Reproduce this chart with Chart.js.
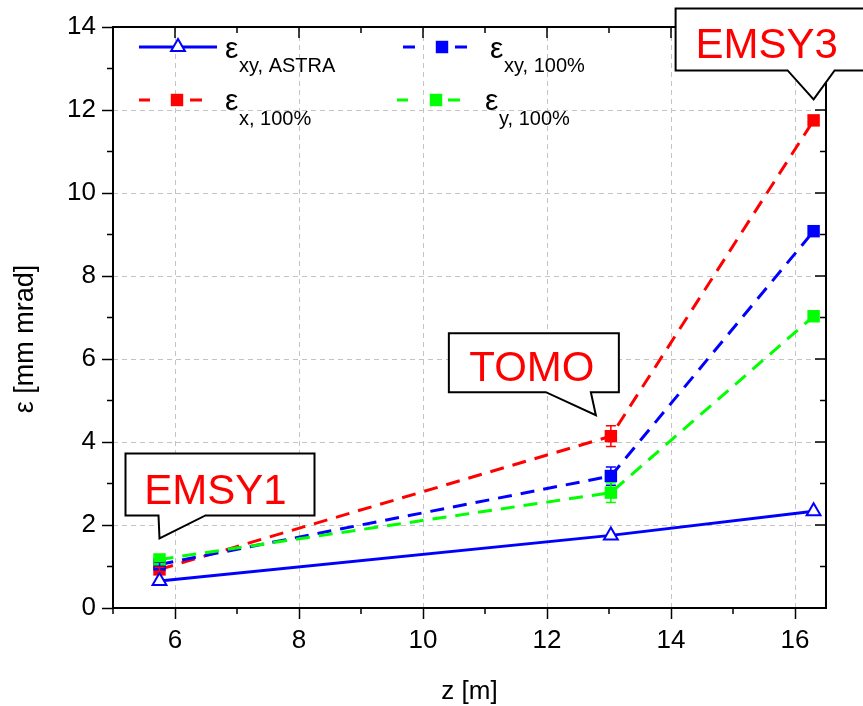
<!DOCTYPE html>
<html>
<head>
<meta charset="utf-8">
<script src="https://cdn.jsdelivr.net/npm/chart.js@4.4.0/dist/chart.umd.min.js"></script>
<style>
  html, body { margin: 0; padding: 0; background: #fff; }
  #wrap { width: 863px; height: 706px; }
</style>
</head>
<body>
<div id="wrap"><canvas id="c"></canvas></div>
<script>
// measurement positions along the beamline
const zPos = [5.75, 13.03, 16.3];
const stations = ['EMSY1', 'TOMO', 'EMSY3'];

// emittance values [mm mrad]
const epsAstra = [0.65, 1.75, 2.33];
const epsXY = [1.05, 3.18, 9.08];
const epsX = [0.93, 4.14, 11.75];
const epsY = [1.17, 2.78, 7.03];

// error bars
const errXY = [0.05, 0.22, 0.08];
const errX = [0.05, 0.25, 0.08];
const errY = [0.05, 0.24, 0.08];

const xTicks = [6, 8, 10, 12, 14, 16];
const yTicks = [0, 2, 4, 6, 8, 10, 12, 14];
const xMinor = [5, 7, 9, 11, 13, 15];
const yMinor = [1, 3, 5, 7, 9, 11, 13];

const seriesSub = ['xy, ASTRA', 'xy, 100%', 'x, 100%', 'y, 100%'];

const colors = { blue: '#0000ff', red: '#ff0000', green: '#00ff00', grid: '#c4c4c4' };
const FONT = '"Liberation Sans", Arial, sans-serif';

const pts = (ys) => zPos.map((z, i) => ({ x: z, y: ys[i] }));

// error bars drawn over the points
const errorBars = {
  id: 'errorBars',
  afterDatasetsDraw(chart) {
    const { ctx, scales: { x, y } } = chart;
    const sets = [[epsXY, errXY, colors.blue], [epsX, errX, colors.red], [epsY, errY, colors.green]];
    ctx.save();
    ctx.lineWidth = 1.5;
    sets.forEach(([vals, errs, col]) => {
      ctx.strokeStyle = col;
      vals.forEach((v, i) => {
        const px = x.getPixelForValue(zPos[i]);
        const top = y.getPixelForValue(v + errs[i]);
        const bot = y.getPixelForValue(v - errs[i]);
        ctx.beginPath();
        ctx.moveTo(px, top); ctx.lineTo(px, bot);
        ctx.moveTo(px - 5, top); ctx.lineTo(px + 5, top);
        ctx.moveTo(px - 5, bot); ctx.lineTo(px + 5, bot);
        ctx.stroke();
      });
    });
    ctx.restore();
  }
};

// frame, minor ticks, mirrored ticks, titles, legend, callouts
const decor = {
  id: 'decor',
  afterDraw(chart) {
    const { ctx, chartArea: a, scales: { x, y } } = chart;
    ctx.save();
    ctx.strokeStyle = '#000';
    ctx.lineWidth = 1.5;
    ctx.beginPath();
    xMinor.forEach(v => {
      const px = x.getPixelForValue(v);
      ctx.moveTo(px, a.bottom); ctx.lineTo(px, a.bottom + 6);
      ctx.moveTo(px, a.top); ctx.lineTo(px, a.top + 6);
    });
    xTicks.forEach(v => {
      const px = x.getPixelForValue(v);
      ctx.moveTo(px, a.top); ctx.lineTo(px, a.top + 11);
    });
    yMinor.forEach(v => {
      const py = y.getPixelForValue(v);
      ctx.moveTo(a.left - 6, py); ctx.lineTo(a.left, py);
      ctx.moveTo(a.right - 6, py); ctx.lineTo(a.right, py);
    });
    yTicks.forEach(v => {
      const py = y.getPixelForValue(v);
      ctx.moveTo(a.right - 11, py); ctx.lineTo(a.right, py);
    });
    ctx.stroke();
    ctx.lineWidth = 2;
    ctx.strokeRect(a.left, a.top, a.right - a.left, a.bottom - a.top);

    // axis titles
    ctx.fillStyle = '#000';
    ctx.font = '26px ' + FONT;
    ctx.textAlign = 'center';
    ctx.textBaseline = 'middle';
    ctx.fillText('z [m]', (a.left + a.right) / 2, 692);
    ctx.save();
    ctx.translate(26, 339);
    ctx.rotate(-Math.PI / 2);
    ctx.font = '27px ' + FONT;
    ctx.fillText('ε [mm mrad]', 0, 0);
    ctx.restore();

    // legend
    const leg = [
      { ds: 0, segs: [[139, 217]], mx: 178, ly: 47, tx: 225, by: 58, sy: 72 },
      { ds: 1, segs: [[403, 415], [455, 467]], mx: 442, ly: 47, tx: 490, by: 58, sy: 72 },
      { ds: 2, segs: [[139, 150], [190, 202]], mx: 177, ly: 100, tx: 225, by: 110, sy: 125 },
      { ds: 3, segs: [[397, 408], [448, 460]], mx: 436, ly: 100, tx: 485, by: 110, sy: 125 }
    ];
    leg.forEach(it => {
      const ds = chart.data.datasets[it.ds];
      ctx.strokeStyle = ds.borderColor;
      ctx.lineWidth = 3;
      ctx.beginPath();
      it.segs.forEach(s => { ctx.moveTo(s[0], it.ly); ctx.lineTo(s[1], it.ly); });
      ctx.stroke();
      ctx.fillStyle = ds.pointBackgroundColor;
      ctx.strokeStyle = ds.pointBorderColor;
      ctx.lineWidth = ds.pointBorderWidth;
      ctx.beginPath();
      Chart.helpers.drawPoint(ctx, {
        pointStyle: ds.pointStyle, radius: ds.pointRadius, borderWidth: ds.pointBorderWidth, rotation: 0
      }, it.mx, it.ly);
      ctx.fillStyle = '#000';
      ctx.textAlign = 'left';
      ctx.textBaseline = 'alphabetic';
      ctx.font = '30px ' + FONT;
      ctx.fillText('ε', it.tx, it.by);
      ctx.font = '20px ' + FONT;
      ctx.fillText(seriesSub[it.ds], it.tx + 14, it.sy);
    });

    // callouts pointing at the stations
    const boxes = [
      { dx: 0, l: -34, r: 155, t: -85, b: -23, bl: -1, br: 46, tx: 56, ty: -48 },
      { dx: -15, l: -147, r: 23, t: -82, b: -23, bl: -50, br: -5, tx: -64, ty: -48 },
      { dx: 0, l: -138, r: 120, t: -91, b: -29, bl: -26, br: 21, tx: -47, ty: -55 }
    ];
    boxes.forEach((c, i) => {
      const topVal = Math.max(epsX[i], epsY[i], epsXY[i]);
      const px = x.getPixelForValue(zPos[i]) + c.dx;
      const py = y.getPixelForValue(topVal) - 21;
      ctx.beginPath();
      ctx.moveTo(px + c.l, py + c.t);
      ctx.lineTo(px + c.r, py + c.t);
      ctx.lineTo(px + c.r, py + c.b);
      ctx.lineTo(px + c.br, py + c.b);
      ctx.lineTo(px, py);
      ctx.lineTo(px + c.bl, py + c.b);
      ctx.lineTo(px + c.l, py + c.b);
      ctx.closePath();
      ctx.fillStyle = '#fff';
      ctx.fill();
      ctx.strokeStyle = '#000';
      ctx.lineWidth = 2;
      ctx.stroke();
      ctx.fillStyle = colors.red;
      ctx.font = '42px ' + FONT;
      ctx.textAlign = 'center';
      ctx.textBaseline = 'middle';
      ctx.fillText(stations[i], px + c.tx, py + c.ty + 2);
    });
    ctx.restore();
  }
};

new Chart(document.getElementById('c'), {
  type: 'line',
  data: {
    datasets: [
      {
        label: 'xy, ASTRA', data: pts(epsAstra), borderColor: colors.blue, borderWidth: 3,
        pointStyle: 'triangle', pointRadius: 8, pointBackgroundColor: '#fff',
        pointBorderColor: colors.blue, pointBorderWidth: 2, order: -1
      },
      {
        label: 'xy, 100%', data: pts(epsXY), borderColor: colors.blue, borderWidth: 3, borderDash: [14, 9],
        pointStyle: 'rect', pointRadius: 8.8, pointBackgroundColor: colors.blue,
        pointBorderColor: colors.blue, pointBorderWidth: 0, order: 1
      },
      {
        label: 'x, 100%', data: pts(epsX), borderColor: colors.red, borderWidth: 3, borderDash: [14, 9],
        pointStyle: 'rect', pointRadius: 8.8, pointBackgroundColor: colors.red,
        pointBorderColor: colors.red, pointBorderWidth: 0, order: 2
      },
      {
        label: 'y, 100%', data: pts(epsY), borderColor: colors.green, borderWidth: 3, borderDash: [14, 9],
        pointStyle: 'rect', pointRadius: 8.8, pointBackgroundColor: colors.green,
        pointBorderColor: colors.green, pointBorderWidth: 0, order: 0
      }
    ]
  },
  options: {
    responsive: true,
    maintainAspectRatio: false,
    animation: false,
    layout: { padding: { top: 27, right: 37, left: 0, bottom: 0 } },
    plugins: { legend: { display: false }, tooltip: { enabled: false } },
    elements: { line: { tension: 0, fill: false } },
    scales: {
      x: {
        type: 'linear', min: 5, max: 16.5,
        afterBuildTicks: s => { s.ticks = xTicks.map(v => ({ value: v })); },
        afterFit: s => { s.height = 98; },
        grid: { color: colors.grid, lineWidth: 1, borderDash: [5, 4], drawTicks: true, tickLength: 11,
                tickColor: '#000', tickWidth: 1.5, tickBorderDash: [] },
        border: { display: false, dash: [5, 4] },
        ticks: { font: { family: FONT, size: 26 }, color: '#000', padding: 6, maxRotation: 0 }
      },
      y: {
        type: 'linear', min: 0, max: 14,
        afterBuildTicks: s => { s.ticks = yTicks.map(v => ({ value: v })); },
        afterFit: s => { s.width = 113; },
        grid: { color: colors.grid, lineWidth: 1, borderDash: [5, 4], drawTicks: true, tickLength: 11,
                tickColor: '#000', tickWidth: 1.5, tickBorderDash: [] },
        border: { display: false, dash: [5, 4] },
        ticks: { font: { family: FONT, size: 26 }, color: '#000', padding: 6 }
      }
    }
  },
  plugins: [errorBars, decor]
});
</script>
</body>
</html>
